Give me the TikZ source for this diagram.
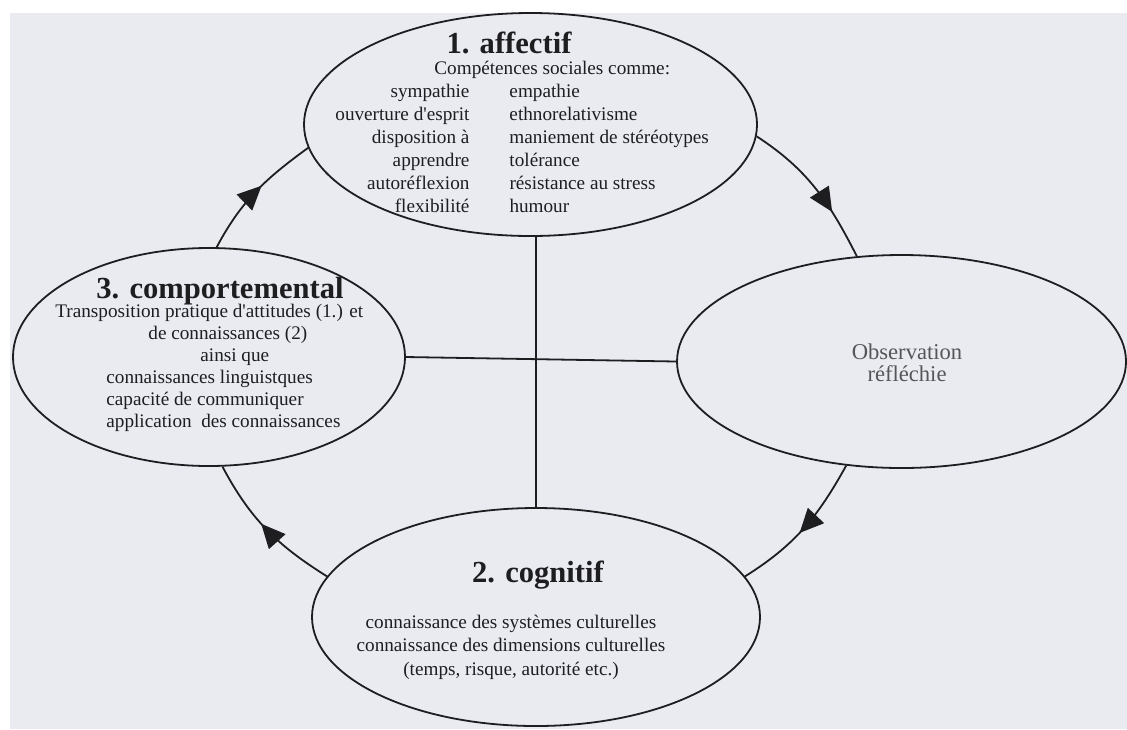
\documentclass[tikz,border=0pt]{standalone}
\usepackage{fontspec}
\setmainfont{Liberation Serif}
\usetikzlibrary{arrows.meta, shapes.geometric, decorations.markings}

\definecolor{scan}{RGB}{233,235,241}
\definecolor{ink}{RGB}{30,30,33}
\newcommand{\ttlsize}{\fontsize{15.3}{18}\selectfont}
\newcommand{\txtsize}{\fontsize{9.6}{11.5}\selectfont}

\begin{document}
\begin{tikzpicture}[x=0.5pt, y=0.5pt, ink,
  bubble/.style={draw=ink, line width=0.9pt, ellipse, inner sep=0pt},
  ttl/.style={font=\ttlsize\bfseries, anchor=base, inner sep=0pt},
  txt/.style={font=\txtsize, inner sep=0pt},
  cyc/.style={draw=ink, line width=0.9pt, postaction={decorate},
    decoration={markings, mark=at position #1 with {\arrow{Triangle[length=12pt, width=11pt]}}}}]
  % --- scanned page ---
  \fill[white] (0,0) rectangle (1127,-729);
  \fill[scan] (10,-13) rectangle (1127,-729);
  \useasboundingbox (0,0) rectangle (1127,-729);
  % --- the four bubbles ---
  \node[bubble, minimum width=226.5pt, minimum height=111.5pt] (aff)  at (530.5,-124.5) {};
  \node[bubble, minimum width=196pt,   minimum height=109pt]   (comp) at (209,-357) {};
  \node[bubble, minimum width=224.5pt, minimum height=106.5pt] (obs)  at (901.5,-361.5) {};
  \node[bubble, minimum width=224pt,   minimum height=109pt]   (cog)  at (536,-617) {};
  % --- cross in the middle ---
  \draw[line width=0.9pt] (cog.north) -- (cog.north |- aff.south);
  \draw[line width=0.9pt] (comp.east) -- (obs.west);
  % --- the cycle ---
  \draw[cyc=0.68] (aff.-3) to[out=-33, in=117] (obs.113);
  \draw[cyc=0.54] (obs.242) to[out=241, in=32] (cog.11);
  \draw[cyc=0.55] (cog.169) to[out=148, in=-62] (comp.277);
  \draw[cyc=0.56] (comp.86) to[out=62, in=216] (aff.186);
  % --- 1. affectif ---
  \node[ttl] (affT) at (509,-53) {1. affectif};
  \node[txt, anchor=base west] (affS) at (434,-74) {Compétences sociales comme:};
  \node[txt, anchor=base west] (affL) at (335,-97) {\begin{tabular}[t]{@{}r@{\hspace{20pt}}l@{}}
    sympathie & empathie\\
    ouverture d\textquotesingle esprit & ethnorelativisme\\
    disposition à & maniement de stéréotypes\\
    apprendre & tolérance\\
    autoréflexion & résistance au stress\\
    flexibilité & humour
  \end{tabular}};
  % --- 3. comportemental ---
  \node[ttl] (compT) at (220,-298) {3. comportemental};
  \node[txt, font=\fontsize{9.6}{11}\selectfont, anchor=base west] (compB) at (55,-317) {\begin{tabular}[t]{@{}l@{}}
    Transposition pratique d\textquotesingle attitudes (1.) et\\
    \hspace*{46.5pt}de connaissances (2)\\
    \hspace*{72.5pt}ainsi que\\
    \hspace*{25.5pt}connaissances linguistques\\
    \hspace*{25.5pt}capacité de communiquer\\
    \hspace*{25.5pt}application~ des connaissances
  \end{tabular}};
  % --- observation ---
  \node[txt, font=\fontsize{11.3}{11.4}\selectfont, text=ink!75, anchor=base] (obsT) at (907,-359) {\begin{tabular}[t]{@{}c@{}}
    Observation\\ réfléchie
  \end{tabular}};
  % --- 2. cognitif ---
  \node[ttl] (cogT) at (538,-582) {2. cognitif};
  \node[txt, font=\fontsize{9.6}{11.75}\selectfont, anchor=base] (cogB) at (511,-628) {\begin{tabular}[t]{@{}c@{}}
    connaissance des systèmes culturelles\\
    connaissance des dimensions culturelles\\
    (temps, risque, autorité etc.)
  \end{tabular}};
\end{tikzpicture}
\end{document}
